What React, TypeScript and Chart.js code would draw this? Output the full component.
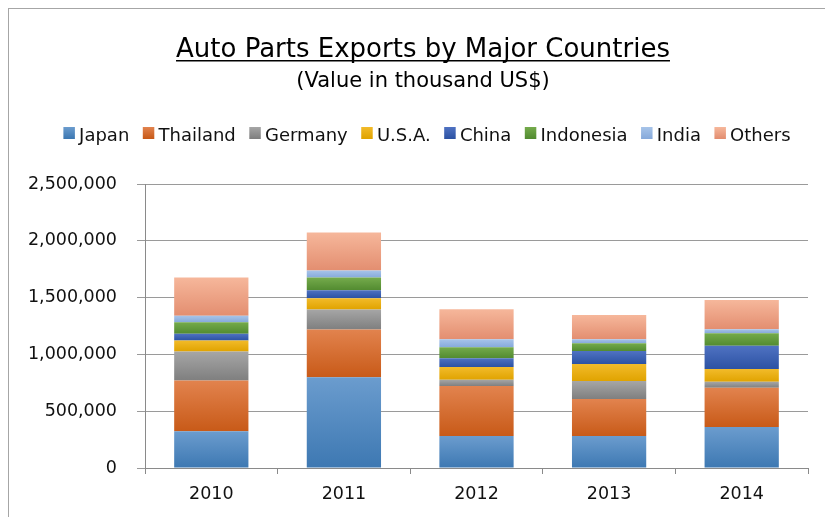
import React, { useEffect, useRef } from "react";
import { Chart, registerables } from "chart.js";

Chart.register(...registerables);

// ---- Data (value in thousand US$) ----
const years = ["2010", "2011", "2012", "2013", "2014"];
const seriesNames = ["Japan", "Thailand", "Germany", "U.S.A.", "China", "Indonesia", "India", "Others"];
const japan = [323000, 798000, 281000, 281000, 361000];
const thailand = [448000, 422000, 440000, 326000, 345000];
const germany = [255000, 176000, 56000, 158000, 53000];
const usa = [97000, 99000, 111000, 150000, 112000];
const china = [59000, 70000, 79000, 114000, 205000];
const indonesia = [102000, 112000, 97000, 70000, 111000];
const india = [56000, 62000, 70000, 35000, 35000];
const others = [337000, 334000, 264000, 212000, 256000];
const yTickValues = [0, 500000, 1000000, 1500000, 2000000, 2500000];

const titleText = "Auto Parts Exports by Major Countries";
const subtitleText = "(Value in thousand US$)";

// ---- Styles ----
const FONT = '"DejaVu Sans", Verdana, sans-serif';
const topColors = ["#6b9cce", "#e2834e", "#a6a6a6", "#f2bb2a", "#4f72c2", "#75ab4c", "#a7c4e9", "#f6b79b"];
const bottomColors = ["#3d78b2", "#c85a18", "#7f7f7f", "#e0a300", "#2c52a3", "#528b30", "#87aadb", "#e38e70"];

const seriesValues = [japan, thailand, germany, usa, china, indonesia, india, others];

function makeGradient(ctx: CanvasRenderingContext2D, top: number, bottom: number, i: number) {
  const g = ctx.createLinearGradient(0, top, 0, bottom);
  g.addColorStop(0, topColors[i]);
  g.addColorStop(1, bottomColors[i]);
  return g;
}

const CANVAS_W = 830;
const CANVAS_H = 508;
const TITLE_CX = 414;
const LEGEND_CX = 418;

const headerPlugin = {
  id: "header",
  afterDraw(chart: any) {
    const ctx: CanvasRenderingContext2D = chart.ctx;
    ctx.save();
    ctx.fillStyle = "#000";
    ctx.textAlign = "center";
    ctx.textBaseline = "alphabetic";
    ctx.font = `26px ${FONT}`;
    ctx.fillText(titleText, TITLE_CX, 48);
    const tw = ctx.measureText(titleText).width;
    ctx.fillRect(TITLE_CX - tw / 2, 51, tw, 1.5);
    ctx.font = `21px ${FONT}`;
    ctx.fillText(subtitleText, TITLE_CX, 78);

    // legend
    ctx.font = `18px ${FONT}`;
    ctx.textAlign = "left";
    const box = 11.5;
    const tgap = 15.7;
    const igap = 13.5;
    const labels: string[] = chart.data.datasets.map((d: any) => d.label);
    const widths = labels.map((l) => ctx.measureText(l).width);
    const total = widths.reduce((a, w) => a + tgap + w, 0) + igap * (labels.length - 1);
    let x = LEGEND_CX - total / 2;
    const boxTop = 118;
    labels.forEach((l, i) => {
      ctx.fillStyle = makeGradient(ctx, boxTop, boxTop + box, i);
      ctx.fillRect(x, boxTop, box, box + 0.5);
      ctx.fillStyle = "#111";
      ctx.fillText(l, x + tgap, 132);
      x += tgap + widths[i] + igap;
    });
    ctx.restore();
  },
};

export default function App() {
  const ref = useRef<HTMLCanvasElement | null>(null);

  useEffect(() => {
    document.body.style.overflow = "hidden";
    document.documentElement.style.overflow = "hidden";
    const canvas = ref.current;
    if (!canvas) return;

    const datasets = seriesNames.map((name, si) => ({
      label: name,
      data: seriesValues[si],
      stack: "s",
      borderWidth: 0,
      backgroundColor: (c: any) => {
        const chart = c.chart;
        const y = chart.scales && chart.scales.y;
        if (!y || c.type !== "data" || !chart.chartArea) return topColors[si];
        const idx = c.dataIndex;
        let base = 0;
        for (let k = 0; k < si; k++) base += seriesValues[k][idx];
        const topPx = y.getPixelForValue(base + seriesValues[si][idx]);
        const botPx = y.getPixelForValue(base);
        if (!isFinite(topPx) || !isFinite(botPx)) return topColors[si];
        return makeGradient(chart.ctx, topPx, botPx, si);
      },
    }));

    const chart = new Chart(canvas, {
      type: "bar",
      data: { labels: years, datasets },
      options: {
        responsive: false,
        animation: false,
        devicePixelRatio: 1,
        layout: { padding: { left: 0, right: 31, top: 175, bottom: 9 } },
        datasets: { bar: { barPercentage: 0.56, categoryPercentage: 1.0 } },
        plugins: {
          legend: { display: false },
          title: { display: false },
          tooltip: { enabled: false },
        },
        scales: {
          x: {
            stacked: true,
            offset: true,
            grid: {
              offset: true,
              drawOnChartArea: false,
              drawTicks: true,
              tickLength: 6,
              color: "#8a8a8a",
            },
            border: { display: true, color: "#8a8a8a", width: 1 },
            ticks: {
              color: "#111",
              font: { family: FONT, size: 17.5 },
              padding: 10,
              maxRotation: 0,
            },
            afterFit: (s: any) => {
              s.height = 40;
            },
          },
          y: {
            stacked: true,
            min: 0,
            max: 2500000,
            afterBuildTicks: (s: any) => {
              s.ticks = yTickValues.map((v) => ({ value: v }));
            },
            grid: {
              color: "#9a9a9a",
              drawTicks: true,
              tickLength: 8,
            },
            border: { display: true, color: "#8a8a8a", width: 1 },
            ticks: {
              color: "#111",
              font: { family: FONT, size: 17.5 },
              padding: 20,
              callback: (v: any) => Number(v).toLocaleString("en-US"),
            },
            afterFit: (s: any) => {
              s.width = 136;
            },
          },
        },
      },
      plugins: [headerPlugin],
    });

    return () => chart.destroy();
  }, []);

  return (
    <div
      style={{
        position: "fixed",
        left: 8,
        top: 8,
        width: 840,
        height: 520,
        borderLeft: "1px solid #a6a6a6",
        borderTop: "1px solid #a6a6a6",
        boxSizing: "border-box",
        background: "#fff",
      }}
    >
      <canvas
        ref={ref}
        width={CANVAS_W}
        height={CANVAS_H}
        style={{ width: CANVAS_W, height: CANVAS_H, display: "block" }}
      />
    </div>
  );
}
